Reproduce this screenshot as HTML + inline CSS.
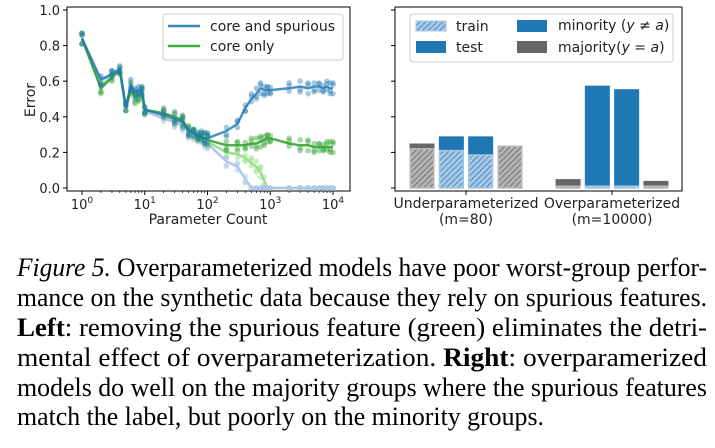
<!DOCTYPE html>
<html><head><meta charset="utf-8">
<style>
html,body{margin:0;padding:0;background:#fff;}
svg{display:block;font-family:"DejaVu Sans","Liberation Sans",sans-serif;}
.cap{font-family:"Liberation Serif",serif;font-size:26px;fill:#000;}
</style></head>
<body>
<svg id="fig" width="715" height="448" viewBox="0 0 715 448">
<defs>
<pattern id="hatchB" width="4" height="4" patternUnits="userSpaceOnUse" patternTransform="rotate(45)">
<rect width="4" height="4" fill="#a9c8e3"/><line x1="0" y1="0" x2="0" y2="4" stroke="#2f7fc0" stroke-width="1.6"/></pattern>
<pattern id="hatchG" width="4" height="4" patternUnits="userSpaceOnUse" patternTransform="rotate(45)">
<rect width="4" height="4" fill="#b3b3b3"/><line x1="0" y1="0" x2="0" y2="4" stroke="#666" stroke-width="1.6"/></pattern>
</defs>
<g id="left"></g>
<g id="right"></g>
<g>
<text class="cap" x="17" y="276" textLength="690" lengthAdjust="spacingAndGlyphs"><tspan font-style="italic">Figure 5.</tspan> Overparameterized models have poor worst-group perfor-</text>
<text class="cap" x="17" y="306" textLength="690" lengthAdjust="spacingAndGlyphs">mance on the synthetic data because they rely on spurious features.</text>
<text class="cap" x="17" y="336" textLength="690" lengthAdjust="spacingAndGlyphs"><tspan font-weight="bold">Left</tspan>: removing the spurious feature (green) eliminates the detri-</text>
<text class="cap" x="17" y="366" textLength="690" lengthAdjust="spacingAndGlyphs">mental effect of overparameterization.  <tspan font-weight="bold">Right</tspan>: overparamerized</text>
<text class="cap" x="17" y="396" textLength="690" lengthAdjust="spacingAndGlyphs">models do well on the majority groups where the spurious features</text>
<text class="cap" x="17" y="425" textLength="527" lengthAdjust="spacingAndGlyphs">match the label, but poorly on the minority groups.</text>
</g>
</svg>
<script>
const paramCounts=[1,2,3,4,5,6,7,8,9,10,20,30,40,50,60,70,80,90,100,200,300,400,500,600,700,800,900,1000,2000,3000,4000,5000,6000,7000,8000,9000,10000];
const spuriousTest=[0.84,0.61,0.64,0.67,0.45,0.58,0.53,0.55,0.55,0.44,0.41,0.39,0.37,0.32,0.31,0.30,0.29,0.28,0.28,0.32,0.36,0.45,0.50,0.53,0.56,0.55,0.55,0.55,0.56,0.57,0.56,0.57,0.57,0.56,0.57,0.56,0.56];
const coreTest=[0.84,0.56,0.62,0.66,0.45,0.56,0.51,0.52,0.54,0.44,0.42,0.40,0.38,0.33,0.31,0.29,0.28,0.28,0.27,0.24,0.24,0.24,0.25,0.25,0.26,0.27,0.28,0.28,0.25,0.24,0.24,0.23,0.23,0.23,0.23,0.23,0.23];
const spuriousTrain=[0.84,0.60,0.64,0.67,0.45,0.57,0.52,0.54,0.54,0.43,0.39,0.37,0.35,0.31,0.29,0.28,0.27,0.26,0.25,0.15,0.12,0.05,0.0,0,0,0,0,0,0,0,0,0,0,0,0,0,0];
const coreTrain=[0.84,0.57,0.63,0.66,0.45,0.55,0.50,0.52,0.53,0.43,0.40,0.38,0.36,0.32,0.30,0.29,0.28,0.27,0.26,0.20,0.19,0.17,0.14,0.12,0.09,0.04,0.0,0,0,0,0,0,0,0,0,0,0];
const jitter=[0.03,-0.03,0.02,-0.02,0.015,-0.015];
const yTicks=[0,0.2,0.4,0.6,0.8,1.0];
const xTickLabels=["0","1","2","3","4"];

const NS="http://www.w3.org/2000/svg";
function mk(p,tag,at,txt){const e=document.createElementNS(NS,tag);for(const k in at)e.setAttribute(k,at[k]);if(txt!==undefined)e.textContent=txt;p.appendChild(e);return e;}
const yS=v=>188-v*178;
const xS=v=>82+Math.log10(v)*62.75;
const L=document.getElementById('left');
let fr=mk(L,'rect',{x:67,y:7,width:283,height:184,fill:'none',stroke:'#000','stroke-width':1});


yTicks.forEach(t=>{
 let y=yS(t);
 let tk=mk(L,'line',{x1:63,x2:67,y1:y,y2:y,stroke:'#000'});
 
 let lb=mk(L,'text',{x:60,y:y+5,'text-anchor':'end','font-size':13,fill:'#222'},t.toFixed(1));
 
});
xTickLabels.forEach((e,i)=>{
 let x=xS(Math.pow(10,i));
 let tk=mk(L,'line',{x1:x,x2:x,y1:191,y2:195,stroke:'#000'});
 
 let lb=mk(L,'text',{x:x,y:209,'text-anchor':'middle','font-size':13,fill:'#222'});
 
 mk(lb,'tspan',{},'10');mk(lb,'tspan',{dy:-6,'font-size':9},e);
 if(i<4)for(let m=2;m<10;m++){let xm=xS(m*Math.pow(10,i));let mt=mk(L,'line',{x1:xm,x2:xm,y1:191,y2:193,stroke:'#000','stroke-width':0.7});}
});
let xl=mk(L,'text',{x:208,y:224,'text-anchor':'middle','font-size':14,fill:'#222'},'Parameter Count');

let yl=mk(L,'text',{x:0,y:0,transform:'translate(35,100) rotate(-90)','text-anchor':'middle','font-size':14,fill:'#222'},'Error');

function series(vals,color,op,name){
 vals.forEach((v,i)=>{jitter.slice(0,3).forEach((j,k)=>{
  let c=mk(L,'circle',{cx:xS(paramCounts[i]),cy:yS(Math.max(0,v+jitter[(i+k)%6]*(v>0?1:0))),r:2.8,fill:color,opacity:op*0.5});
  
 });});
 let d=vals.map((v,i)=>(i?'L':'M')+xS(paramCounts[i]).toFixed(1)+' '+yS(v).toFixed(1)).join(' ');
 let p=mk(L,'path',{d:d,fill:'none',stroke:color,'stroke-width':2.5,opacity:op});
 
}
series(coreTrain,'#98df8a',1,'core-only-train');
series(spuriousTrain,'#aec7e8',1,'spurious-train');
series(coreTest,'#2ca02c',0.85,'core-only-test');
series(spuriousTest,'#1f77b4',0.8,'spurious-test');
let lg=mk(L,'g',{});
mk(lg,'rect',{x:163,y:14,width:180,height:46,rx:3,fill:'#fff','fill-opacity':0.85,stroke:'#ccc'});
mk(lg,'line',{x1:168,x2:200,y1:26,y2:26,stroke:'#3a86bf','stroke-width':2.5});
mk(lg,'text',{x:210,y:31,'font-size':14,fill:'#222'},'core and spurious');
mk(lg,'line',{x1:168,x2:200,y1:46,y2:46,stroke:'#3fae3f','stroke-width':2.5});
mk(lg,'text',{x:210,y:51,'font-size':14,fill:'#222'},'core only');

const barGroups=["Underparameterized","Overparameterized"];
const groupSub=["(m=80)","(m=10000)"];
const barKinds=["majority","minority","minority","majority"];
const testErr=[[0.25,0.29,0.29,0.235],[0.05,0.575,0.555,0.04]];
const trainErr=[[0.22,0.21,0.185,0.235],[0.01,0.01,0.01,0.01]];
const R=document.getElementById('right');
let fr2=mk(R,'rect',{x:395,y:7,width:287,height:184,fill:'none',stroke:'#000'});

yTicks.forEach(t=>{let tk=mk(R,'line',{x1:391,x2:395,y1:yS(t),y2:yS(t),stroke:'#000'});});
const gx=[466,612];
barGroups.forEach((g,gi)=>{
 barKinds.forEach((k,bi)=>{
  let cx=gx[gi]+(bi-1.5)*29.3, w=25;
  let col=k==='minority'?'#1f77b4':'#666';
  let tb=mk(R,'rect',{x:cx-w/2,y:yS(testErr[gi][bi]),width:w,height:testErr[gi][bi]*178,fill:col});
  
  let tr=mk(R,'rect',{x:cx-w/2+0.8,y:yS(trainErr[gi][bi]),width:w-1.6,height:trainErr[gi][bi]*178,fill:k==='minority'?'url(#hatchB)':'url(#hatchG)',stroke:k==='minority'?'#a9c8e3':'#bbb','stroke-width':1.5});
  
 });
 let tk=mk(R,'line',{x1:gx[gi],x2:gx[gi],y1:191,y2:195,stroke:'#000'});
 let l1=mk(R,'text',{x:gx[gi],y:208,'text-anchor':'middle','font-size':14,fill:'#222'},g);
 
 let l2=mk(R,'text',{x:gx[gi],y:224,'text-anchor':'middle','font-size':14,fill:'#222'},groupSub[gi]);
 
});
let lg2=mk(R,'g',{});
mk(lg2,'rect',{x:410,y:14,width:263,height:48,rx:3,fill:'#fff','fill-opacity':0.85,stroke:'#ccc'});
mk(lg2,'rect',{x:416,y:21,width:30,height:10,fill:'url(#hatchB)',stroke:'#a9c8e3'});
mk(lg2,'text',{x:456,y:31,'font-size':14,fill:'#222'},'train');
mk(lg2,'rect',{x:416,y:41,width:30,height:12,fill:'#1f77b4'});
mk(lg2,'text',{x:456,y:52,'font-size':14,fill:'#222'},'test');
mk(lg2,'rect',{x:517,y:20,width:30,height:12,fill:'#1f77b4'});
let t1=mk(lg2,'text',{x:558,y:30,'font-size':14,fill:'#222'});
mk(t1,'tspan',{},'minority (');mk(t1,'tspan',{'font-style':'italic'},'y');mk(t1,'tspan',{},' ≠ ');mk(t1,'tspan',{'font-style':'italic'},'a');mk(t1,'tspan',{},')');
mk(lg2,'rect',{x:517,y:41,width:30,height:12,fill:'#666'});
let t2=mk(lg2,'text',{x:558,y:52,'font-size':14,fill:'#222'});
mk(t2,'tspan',{},'majority(');mk(t2,'tspan',{'font-style':'italic'},'y');mk(t2,'tspan',{},' = ');mk(t2,'tspan',{'font-style':'italic'},'a');mk(t2,'tspan',{},')');
</script>
</body></html>
